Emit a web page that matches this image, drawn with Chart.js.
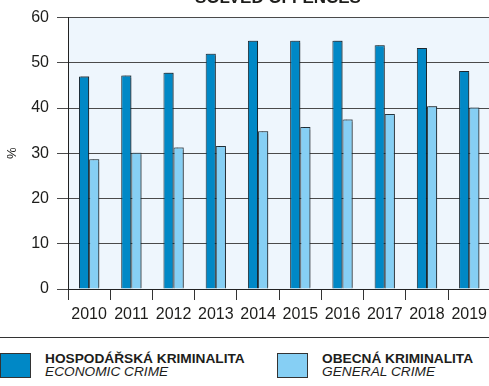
<!DOCTYPE html>
<html>
<head>
<meta charset="utf-8">
<script src="https://cdn.jsdelivr.net/npm/chart.js@4"></script>
<style>
  body { margin: 0; width: 489px; height: 386px; overflow: hidden; background: #fff; font-family: "Liberation Sans", Arial, sans-serif; color: #1d1d1b; position: relative; }
  #wrap { position: absolute; left: 0; top: 0; width: 492px; height: 326px; }
  #rule { position: absolute; left: 0; top: 337px; width: 489px; height: 0; border-top: 1.5px solid #333; }
  .item { position: absolute; top: 353px; }
  .box { position: absolute; top: 0; width: 29px; height: 23px; border: 1px solid #333; }
  .txt { position: absolute; top: -1px; white-space: nowrap; font-size: 13.7px; line-height: 13px; }
  .txt b { display: block; }
  .txt i { display: block; }
</style>
</head>
<body>
<div id="wrap"><canvas id="chart" width="492" height="326"></canvas></div>
<div id="rule"></div>
<div class="item" style="left:0"><div class="box" style="left:0;background:#0088c6"></div><div class="txt" style="left:45px"><b>HOSPODÁŘSKÁ KRIMINALITA</b><i>ECONOMIC CRIME</i></div></div>
<div class="item" style="left:277px"><div class="box" style="left:0;background:#86cff4"></div><div class="txt" style="left:45px"><b>OBECNÁ KRIMINALITA</b><i>GENERAL CRIME</i></div></div>
<script>
const years = ['2010', '2011', '2012', '2013', '2014', '2015', '2016', '2017', '2018', '2019'];
const economicCrime = [47.0, 47.2, 47.8, 52.0, 54.9, 54.9, 54.9, 53.9, 53.3, 48.2];
const generalCrime = [28.7, 30.1, 31.3, 31.6, 34.9, 35.8, 37.5, 38.7, 40.4, 40.1];
const chartTitle = 'SOLVED OFFENCES';

// pale blue fill behind the bars
const plotBackground = {
    id: 'plotBackground',
    beforeDraw(chart) {
        const a = chart.chartArea;
        const ctx = chart.ctx;
        ctx.save();
        ctx.fillStyle = '#eef6fd';
        ctx.fillRect(a.left, a.top, a.right - a.left, a.bottom - a.top);
        ctx.restore();
    }
};

// soft drop shadow on the bars
const barShadow = {
    id: 'barShadow',
    beforeDatasetsDraw(chart) {
        const ctx = chart.ctx;
        ctx.save();
        ctx.shadowColor = 'rgba(0,0,0,0.35)';
        ctx.shadowBlur = 1;
        ctx.shadowOffsetX = 1.5;
        ctx.shadowOffsetY = -1;
    },
    afterDatasetsDraw(chart) {
        chart.ctx.restore();
    }
};

// heading sits above the plot, mostly cut by the top edge
const topTitle = {
    id: 'topTitle',
    afterDraw(chart) {
        const ctx = chart.ctx;
        ctx.save();
        ctx.font = 'bold 17px "Liberation Sans", Arial, sans-serif';
        ctx.fillStyle = '#1d1d1b';
        ctx.textAlign = 'center';
        ctx.textBaseline = 'alphabetic';
        ctx.fillText(chartTitle, 278, 3);
        ctx.restore();
    }
};

new Chart(document.getElementById('chart'), {
    type: 'bar',
    data: {
        labels: years,
        datasets: [
            {
                label: 'HOSPODÁŘSKÁ KRIMINALITA',
                data: economicCrime,
                backgroundColor: '#0088c6',
                borderColor: '#1e2d36',
                borderWidth: 1
            },
            {
                label: 'OBECNÁ KRIMINALITA',
                data: generalCrime,
                backgroundColor: '#86cff4',
                borderColor: '#2a3a44',
                borderWidth: 1
            }
        ]
    },
    options: {
        responsive: false,
        animation: false,
        layout: { padding: { top: 16, right: 0, left: 0, bottom: 0 } },
        datasets: { bar: { barPercentage: 1, categoryPercentage: 0.48 } },
        plugins: {
            legend: { display: false },
            tooltip: { enabled: false }
        },
        scales: {
            x: {
                afterFit(scale) { scale.height = 37; },
                grid: { offset: true, drawOnChartArea: false, drawTicks: true, tickLength: 11, color: '#333', lineWidth: 1 },
                border: { color: '#222', width: 1 },
                ticks: { color: '#1d1d1b', font: { size: 16, family: '"Liberation Sans", Arial, sans-serif' }, padding: 5, maxRotation: 0, autoSkip: false }
            },
            y: {
                min: 0,
                max: 60,
                afterFit(scale) { scale.width = 68; },
                grid: { color: '#4a4a4a', lineWidth: 1, tickLength: 11 },
                border: { color: '#222', width: 1 },
                ticks: { stepSize: 10, color: '#1d1d1b', font: { size: 16, family: '"Liberation Sans", Arial, sans-serif' }, padding: 8 },
                title: { display: true, text: '%', color: '#1d1d1b', font: { size: 13, family: '"Liberation Sans", Arial, sans-serif' }, padding: 5 }
            }
        }
    },
    plugins: [plotBackground, barShadow, topTitle]
});
</script>
</body>
</html>
